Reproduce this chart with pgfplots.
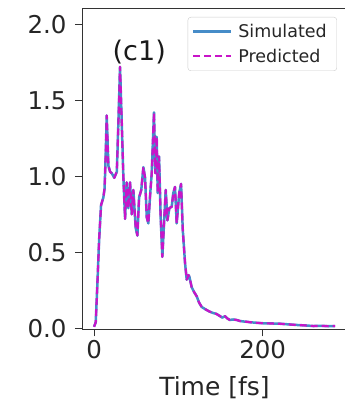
\documentclass[border=0pt]{standalone}
\usepackage{pgfplots}
\pgfplotsset{compat=1.18}
\usepackage{pgfplotstable}
\usepackage{fontspec}
\setmainfont{DejaVu Sans}
\definecolor{simblue}{RGB}{70,140,200}
\definecolor{predmag}{RGB}{200,20,200}
\pgfplotstableread{
t v
0 0.01
2 0.04
4 0.30
6 0.58
8.3 0.81
11 0.86
12.5 0.92
13.8 1.14
15 1.40
17 1.07
19 1.03
21 1.02
24 0.99
27 1.03
28.9 1.36
30.8 1.72
32.8 1.36
34.8 0.99
36.8 0.72
38.7 0.96
40.7 0.79
42.7 0.96
44.7 0.75
46.6 0.91
49.4 0.66
51.4 0.61
53.4 0.86
56 0.91
58.5 1.06
60.5 0.99
62.5 0.73
64.4 0.69
66.4 0.87
68.4 1.02
71.1 1.42
72.7 1.02
74.3 1.26
75.5 0.89
77.1 1.13
79 0.73
81 0.47
83 0.69
85 0.91
87 0.71
89.3 0.79
92.1 0.80
94 0.89
96 0.93
98 0.69
101 0.89
103.2 0.95
105.2 0.65
107.9 0.43
109.9 0.32
112 0.35
113 0.34
115.8 0.27
118.5 0.24
121.8 0.21
124.5 0.17
127.7 0.14
133.6 0.12
137 0.11
141.5 0.10
145 0.095
149.4 0.08
152 0.07
155.3 0.08
158 0.065
161 0.055
165 0.058
169 0.055
173 0.048
177 0.045
181 0.043
185 0.040
193 0.036
200.8 0.033
210 0.032
220.6 0.030
230 0.026
240 0.022
250 0.019
260 0.015
270 0.016
278 0.014
286 0.015
}\datatable
\begin{document}
\begin{tikzpicture}
\begin{axis}[
  name=ax,
  scale only axis,
  width=265pt, height=321.3pt,
  xmin=-14.3, xmax=300, ymin=-0.0066, ymax=2.107,
  xtick={0,200}, ytick={0,0.5,1,1.5,2},
  xtick pos=bottom, ytick pos=left,
  tick align=outside, major tick length=7pt,
  tick style={black!80, line width=0.8pt},
  axis line style={line width=0.8pt, black!80},
  /pgf/number format/assume math mode=true,
  yticklabel style={/pgf/number format/.cd, fixed, fixed zerofill, precision=1, /tikz/.cd, xshift=-5pt},
  ticklabel style={font=\fontsize{24.5}{30}\selectfont, text=black!85},
  xlabel={Time [fs]},
  xlabel style={font=\fontsize{25}{30}\selectfont, text=black!85, yshift=-11pt},
  legend style={at={(1,1)}, anchor=north east, xshift=-10pt, yshift=-9pt,
    draw=black!20, rounded corners=3pt, font=\fontsize{17.5}{21}\selectfont,
    text=black!85, inner xsep=4pt, inner ysep=5pt, row sep=6pt,
    nodes={inner xsep=6pt}},
  legend cell align=left,
  legend image code/.code={\draw[#1] (0pt,0pt) -- (38pt,0pt);},
]
\addplot[simblue, line width=2.5pt, line join=round] table[x=t,y=v] {\datatable};
\addlegendentry{Simulated}
\addplot[predmag, line width=2.2pt, dash pattern=on 7pt off 4pt, line join=round] table[x=t,y=v] {\datatable};
\addlegendentry{Predicted}
\node[font=\fontsize{27}{32}\selectfont, text=black!90] at (axis cs:53.6,1.82) {(c1)};
\end{axis}
\pgfresetboundingbox
\path ([shift={(-82pt,-72.7pt)}]ax.south west) rectangle ([shift={(263pt,8pt)}]ax.north west);
\end{tikzpicture}
\end{document}
